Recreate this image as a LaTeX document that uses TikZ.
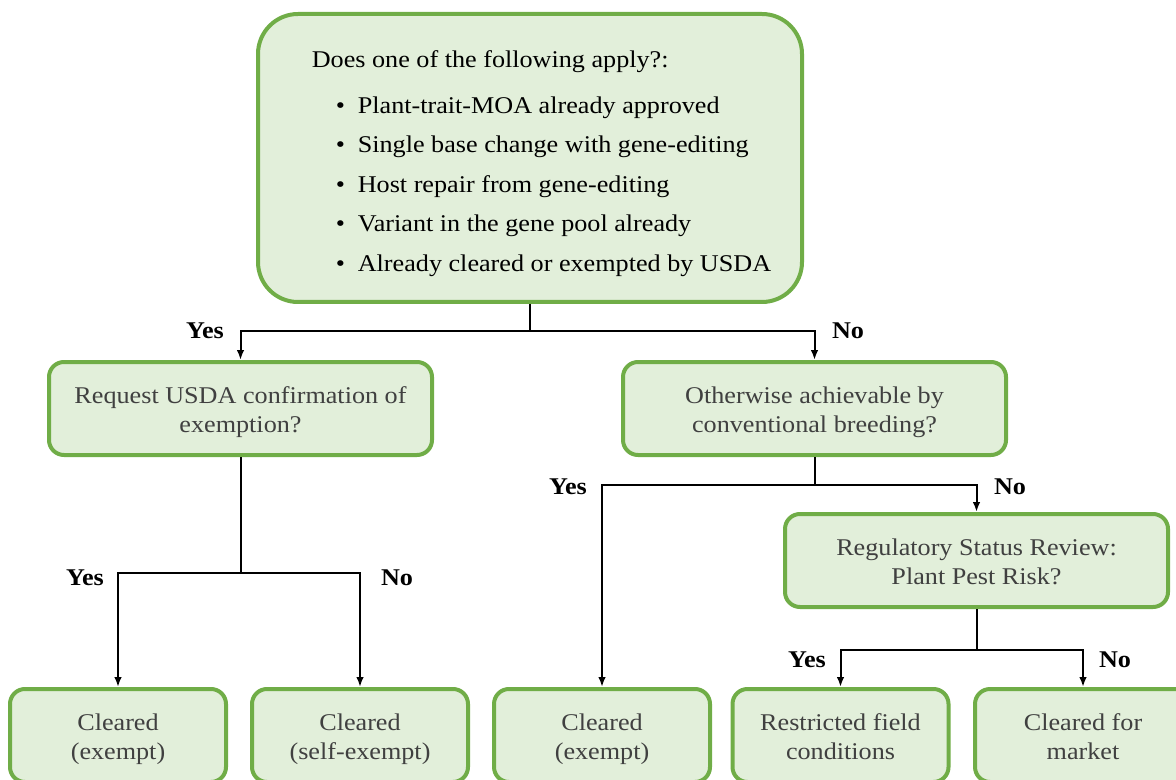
\documentclass[tikz,border=0pt]{standalone}
\usepackage{fontspec}
\setmainfont{Liberation Serif}[FakeStretch=1.09]
\usetikzlibrary{arrows.meta}

% two centred lines of box text
\newcommand{\boxtext}[2]{\begin{tabular}{@{}c@{}}\rule{0pt}{14pt}#1\\#2\rule[-3pt]{0pt}{3pt}\end{tabular}}

\tikzset{
  box/.style={draw=BoxBorder, fill=BoxFill, line width=2pt, rounded corners=7.5pt,
    minimum width=191.5pt, minimum height=46.5pt, text=BoxText,
    font=\fontsize{12}{14.5}\selectfont},
  leaf/.style={box, minimum width=108pt},
  wire/.style={line width=1pt},
  link/.style={wire, -{Latex[length=5pt,width=3.8pt]}},
  answer/.style={font=\bfseries\fontsize{12}{14}\selectfont},
}

\begin{document}
\begin{tikzpicture}[x=0.5pt, y=-0.5pt]

% Define Box Colors
\definecolor{BoxFill}{HTML}{E2EFDA}
\definecolor{BoxBorder}{HTML}{70AD47}
\definecolor{BoxText}{HTML}{404040}

\useasboundingbox (0,0) rectangle (1176,780);
\clip (0,0) rectangle (1176,780);

% Question box at the top
\node[draw=BoxBorder, fill=BoxFill, line width=2pt, rounded corners=20pt,
  minimum width=272pt, minimum height=144pt, font=\fontsize{12}{14.5}\selectfont] (top) at (530,158) {%
  \begin{tabular}{@{\hspace{11.5pt}}l@{}}
    \rule{0pt}{15.4pt}Does one of the following apply?:\\[8.5pt]
    \hspace*{12pt}\makebox[11pt][l]{\textbullet}Plant-trait-MOA already approved\\[5.25pt]
    \hspace*{12pt}\makebox[11pt][l]{\textbullet}Single base change with gene-editing\\[5.25pt]
    \hspace*{12pt}\makebox[11pt][l]{\textbullet}Host repair from gene-editing\\[5.25pt]
    \hspace*{12pt}\makebox[11pt][l]{\textbullet}Variant in the gene pool already\\[5.25pt]
    \hspace*{12pt}\makebox[11pt][l]{\textbullet}Already cleared or exempted by USDA
  \end{tabular}};

% Second row
\node[box] (req) at (240.5,408.5) {\boxtext{Request USDA confirmation of}{exemption?}};
\node[box] (oth) at (814.5,408.5) {\boxtext{Otherwise achievable by}{conventional breeding?}};
\node[box] (rsr) at (976.5,560.5) {\boxtext{Regulatory Status Review:}{Plant Pest Risk?}};

% Outcomes (bottom row, cut by the page edge)
\node[leaf] (c1) at (118,735.5) {\boxtext{Cleared}{(exempt)}};
\node[leaf] (c2) at (360,735.5) {\boxtext{Cleared}{(self-exempt)}};
\node[leaf] (c3) at (602,735.5) {\boxtext{Cleared}{(exempt)}};
\node[leaf] (c4) at (840.5,735.5) {\boxtext{Restricted field}{conditions}};
\node[leaf] (c5) at (1083,735.5) {\boxtext{Cleared for}{market}};

% Branch points
\coordinate (s0) at (530,331);
\coordinate (s1) at (240.5,573);
\coordinate (s2) at (814.5,485);
\coordinate (s3) at (976.5,650);

\draw[wire] (top.south) -- (s0);
\draw[link] (s0) -| (req.north);
\draw[link] (s0) -| (oth.north);

\draw[wire] (req.south) -- (s1);
\draw[link] (s1) -| (c1.north);
\draw[link] (s1) -| (c2.north);

\draw[wire] (oth.south) -- (s2);
\draw[link] (s2) -| (c3.north);
\draw[link] (s2) -| (rsr.north);

\draw[wire] (rsr.south) -- (s3);
\draw[link] (s3) -| (c4.north);
\draw[link] (s3) -| (c5.north);

% Yes / No labels
\node[answer] (y0) at (205,331) {Yes};
\node[answer] (n0) at (848,331) {No};
\node[answer] (y1) at (85,578) {Yes};
\node[answer] (n1) at (397,578) {No};
\node[answer] (y2) at (568,487) {Yes};
\node[answer] (n2) at (1010,487) {No};
\node[answer] (y3) at (807,660) {Yes};
\node[answer] (n3) at (1115,660) {No};

\end{tikzpicture}
\end{document}
